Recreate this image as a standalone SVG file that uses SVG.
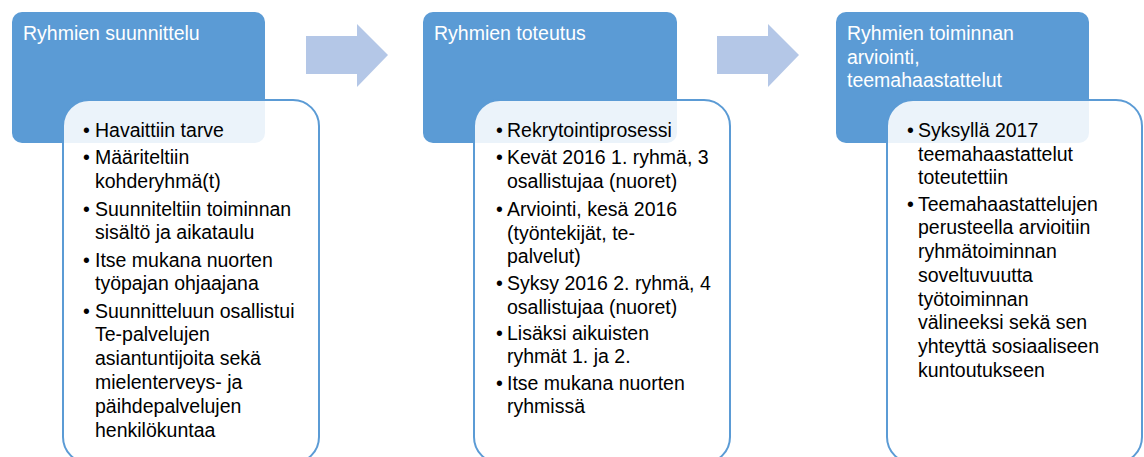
<svg xmlns="http://www.w3.org/2000/svg" width="1144" height="457" viewBox="0 0 1144 457">
<style>
.hdr{fill:#5b9bd5}
.body{fill:#ffffff;fill-opacity:0.88;stroke:#5b9bd5;stroke-width:2}
.arrow{fill:#b4c7e7}
.ht{font-family:"Liberation Sans",Arial,sans-serif;font-size:19.5px;fill:#ffffff}
.bt{font-family:"Liberation Sans",Arial,sans-serif;font-size:19.5px;fill:#000000}
</style>
<rect width="1144" height="457" fill="#ffffff"/>
<g id="connectors">
<polygon class="arrow" points="306,36 357,36 357,24 388,55 357,87 357,74 306,74"/>
<polygon class="arrow" points="717,36 768,36 768,24 799,55 768,87 768,74 717,74"/>
</g>
<g id="node1">
<rect class="hdr" x="12" y="12" width="253" height="131" rx="10"/>
<text class="ht" x="23" y="40">Ryhmien suunnittelu</text>
<rect class="body" x="63" y="100" width="256" height="363" rx="26"/>
<g class="bt">
<text x="83" y="137">•</text><text x="95" y="137">Havaittiin tarve</text>
<text x="83" y="164">•</text><text x="95" y="164">Määriteltiin</text>
<text x="95" y="188">kohderyhmä(t)</text>
<text x="83" y="216">•</text><text x="95" y="216">Suunniteltiin toiminnan</text>
<text x="95" y="239">sisältö ja aikataulu</text>
<text x="83" y="267">•</text><text x="95" y="267">Itse mukana nuorten</text>
<text x="95" y="290">työpajan ohjaajana</text>
<text x="83" y="318">•</text><text x="95" y="318">Suunnitteluun osallistui</text>
<text x="95" y="341">Te-palvelujen</text>
<text x="95" y="365">asiantuntijoita sekä</text>
<text x="95" y="389">mielenterveys- ja</text>
<text x="95" y="413">päihdepalvelujen</text>
<text x="95" y="437">henkilökuntaa</text>
</g>
</g>
<g id="node2">
<rect class="hdr" x="423" y="12" width="254" height="131" rx="10"/>
<text class="ht" x="434" y="40">Ryhmien toteutus</text>
<rect class="body" x="474" y="100" width="256" height="363" rx="26"/>
<g class="bt">
<text x="496" y="137">•</text><text x="507" y="137">Rekrytointiprosessi</text>
<text x="496" y="164">•</text><text x="507" y="164">Kevät 2016 1. ryhmä, 3</text>
<text x="507" y="188">osallistujaa (nuoret)</text>
<text x="496" y="216">•</text><text x="507" y="216">Arviointi, kesä 2016</text>
<text x="507" y="240">(työntekijät, te-</text>
<text x="507" y="263">palvelut)</text>
<text x="496" y="290">•</text><text x="507" y="290">Syksy 2016 2. ryhmä, 4</text>
<text x="507" y="314">osallistujaa (nuoret)</text>
<text x="496" y="340">•</text><text x="507" y="340">Lisäksi aikuisten</text>
<text x="507" y="363">ryhmät 1. ja 2.</text>
<text x="496" y="390">•</text><text x="507" y="390">Itse mukana nuorten</text>
<text x="507" y="413">ryhmissä</text>
</g>
</g>
<g id="node3">
<rect class="hdr" x="836" y="12" width="253" height="131" rx="10"/>
<text class="ht" x="847" y="40">Ryhmien toiminnan</text>
<text class="ht" x="847" y="64">arviointi,</text>
<text class="ht" x="847" y="87">teemahaastattelut</text>
<rect class="body" x="887" y="100" width="255" height="363" rx="26"/>
<g class="bt">
<text x="907" y="137">•</text><text x="918" y="137">Syksyllä 2017</text>
<text x="918" y="161">teemahaastattelut</text>
<text x="918" y="184">toteutettiin</text>
<text x="907" y="211">•</text><text x="918" y="211">Teemahaastattelujen</text>
<text x="918" y="234">perusteella arvioitiin</text>
<text x="918" y="258">ryhmätoiminnan</text>
<text x="918" y="282">soveltuvuutta</text>
<text x="918" y="306">työtoiminnan</text>
<text x="918" y="329">välineeksi sekä sen</text>
<text x="918" y="353">yhteyttä sosiaaliseen</text>
<text x="918" y="377">kuntoutukseen</text>
</g>
</g>
</svg>
